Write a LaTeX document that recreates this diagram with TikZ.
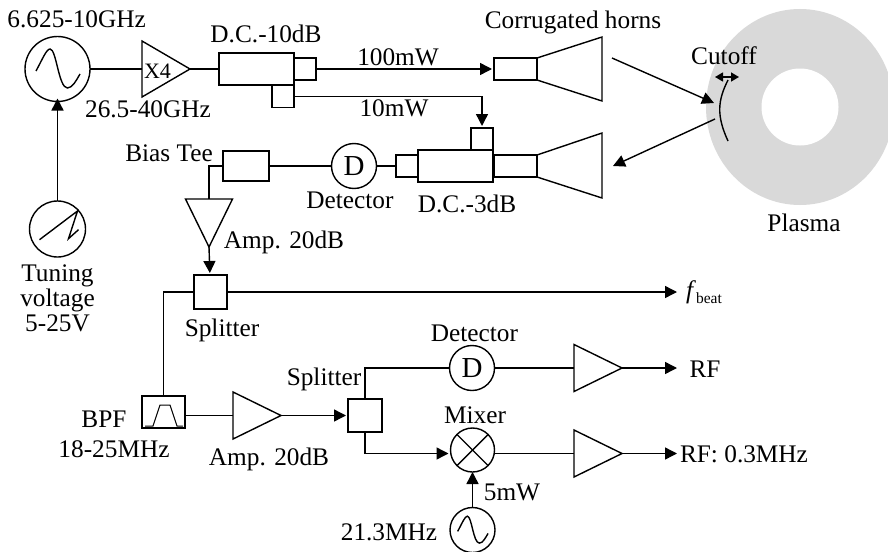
\documentclass[tikz,border=0pt]{standalone}
\usepackage{fontspec}
\setmainfont{Liberation Serif}
\usetikzlibrary{arrows.meta,positioning,shapes.geometric}

\begin{document}
\begin{tikzpicture}[
  x=1pt, y=-1pt,
  line width=1.4pt,
  box/.style={draw, rectangle, inner sep=0pt, outer sep=0pt, minimum width=#1},
  box/.default=22pt,
  dia/.style={draw, circle, inner sep=0pt, outer sep=0pt, minimum size=#1},
  amp/.style={draw, isosceles triangle, isosceles triangle stretches, inner sep=0pt, outer sep=0pt,
    minimum width=47pt, minimum height=48pt},
  lbl/.style={font=\fontsize{25.3}{25}\selectfont, inner sep=0pt, anchor=base},
  detect/.style={dia=45pt, font=\fontsize{29}{29}\selectfont},
  arr/.style={-{Triangle[length=12pt,width=12pt]}, shorten >=2pt},
  sinewave/.pic={\draw (-21.5,2) .. controls (-15,-10) and (-11,-20) .. (-7.5,-20)
    .. controls (-1,-20) and (1,19) .. (10,19) .. controls (15,19) and (19,11) .. (22.5,5);},
  rampwave/.pic={\draw (-18,10.7) -- (20,-18) -- (11,9.7) -- (21,.7);}
]
  \useasboundingbox (0,0) rectangle (888,551);
  \clip (0,0) rectangle (888,551);

  \fill[black!15] (800,107) ellipse [x radius=94, y radius=98];
  \fill[white] (800,107) circle [radius=38.5];

  \node[dia=65pt] (sweep) at (57.5,69) {};
  \pic at (sweep) {sinewave};
  \node[dia=56pt] (ramp) at (57.5,229) {};
  \pic at (ramp) {rampwave};
  \node[amp, minimum width=56pt, anchor=lower side] (mult) at (142,69) {};
  \node[lbl, font=\fontsize{22}{22}\selectfont] (multtext) at (157.5,78) {X4};
  \node[box=75pt, minimum height=32pt] (dcten) at (256.5,69) {};
  \node[box, minimum height=22pt] (dcmain) at (305,69) {};
  \node[box, minimum height=22pt] (dcside) at (283,96.5) {};
  \node[box=43pt, minimum height=22pt] (txguide) at (515.5,69) {};
  \node[box=43pt, minimum height=22pt] (rxguide) at (515.5,166) {};
  \node[box=75pt, minimum height=32pt] (dcthree) at (455.5,166) {};
  \node[box, minimum height=22pt] (dcleft) at (407,166) {};
  \node[box, minimum height=22pt] (dctop) at (482,139) {};
  \node[detect] (det) at (354,166) {D};
  \node[box=46pt, minimum height=30pt] (bias) at (246,166) {};
  \node[amp, shape border rotate=270, anchor=lower side] (ampa) at (209,199) {};
  \node[box=33pt, minimum height=34pt] (splita) at (210.5,292) {};
  \node[box=43pt, minimum height=32pt] (bpf) at (163.5,412) {};
  \node[amp, anchor=lower side] (ampb) at (233,415.5) {};
  \node[box=34pt, minimum height=33pt] (splitb) at (365,415.5) {};
  \node[detect] (detb) at (472,368) {D};
  \node[dia=44pt] (mixer) at (472.5,450) {};
  \node[dia=45pt] (lo) at (472.5,530) {};
  \pic[scale=.69] at (lo) {sinewave};
  \node[amp, anchor=lower side] (ampc) at (574,368) {};
  \node[amp, anchor=lower side] (ampd) at (574,453.5) {};

  \draw (txguide.north east) -- ++(65,-21) -- ++(0,64) -- (txguide.south east);
  \draw (rxguide.north east) -- ++(65,-22) -- ++(0,65) -- (rxguide.south east);
  \draw (mixer.45) -- (mixer.225);
  \draw (mixer.135) -- (mixer.315);
  \draw[line width=1pt] (bpf.south west) ++(3,-2) -- ++(8,0) -- ++(7,-21) -- ++(10,0) -- ++(7,21) -- ++(6,0);

  \draw (sweep) -- (mult.lower side);
  \draw (mult.apex) -- (dcten);
  \draw[arr] (dcmain) -- (txguide);
  \draw[arr] (dcside) -| (dctop);
  \draw[arr, shorten >=-3pt] (ramp) -- (sweep);
  \draw (bias) -- (det);
  \draw (det) -- (dcleft);
  \draw (bias) -| (ampa.lower side);
  \draw[arr] (ampa.apex) -- (splita);
  \draw (splita) -| (bpf);
  \draw[arr] (splita) -- (splita -| ampd.apex) -- ++(57,0);
  \draw (bpf.east |- ampb.lower side) -- (ampb.lower side);
  \draw[arr] (ampb.apex) -- (splitb);
  \draw (splitb) |- (detb);
  \draw[arr] (splitb) |- (mixer.west |- ampd.lower side);
  \draw (detb) -- (ampc.lower side);
  \draw (mixer.east |- ampd.lower side) -- (ampd.lower side);
  \draw[arr] (ampc.apex) -- ++(57,0);
  \draw[arr] (ampd.apex) -- ++(57,0);
  \draw[arr, shorten >=0pt] (lo) -- (mixer);

  \coordinate (txbeam) at (612,58);
  \coordinate (rxbeam) at (715,119);
  \coordinate (cuttop) at (728,80);
  \coordinate (cutbot) at (728,141);
  \draw[arr, shorten >=0pt] (txbeam) -- (714,103);
  \draw[arr, shorten >=0pt] (rxbeam) -- (613,166);
  \draw (cuttop) .. controls (718,100) and (716,115) .. (cutbot);
  \draw[{Triangle[length=8pt,width=9pt]}-{Triangle[length=8pt,width=9pt]}] (715,77) -- (739,77);

  \node[lbl] (sweeplbl) at (76.7,28) {6.625-10GHz};
  \node[lbl] (multlbl) at (148,117) {26.5-40GHz};
  \node[lbl] (dctenlbl) at (266,42) {D.C.-10dB};
  \node[lbl] (highlbl) at (398,66) {100mW};
  \node[lbl] (lowlbl) at (394,116.7) {10mW};
  \node[lbl] (hornlbl) at (573,29) {Corrugated horns};
  \node[lbl] (cutlbl) at (724,64) {Cutoff};
  \node[lbl] (plasmalbl) at (804,231) {Plasma};
  \node[lbl] (biaslbl) at (169,161) {Bias Tee};
  \node[lbl] (detlbl) at (350,208) {Detector};
  \node[lbl] (dcthreelbl) at (467,212) {D.C.-3dB};
  \node[lbl] (ampalbl) at (284,248) {Amp. 20dB};
  \node[lbl, anchor=north, align=center, below=7pt of ramp] (ramplbl) {Tuning\\voltage\\5-25V};
  \node[lbl] (splitalbl) at (222,336) {Splitter};
  \node[lbl] (splitblbl) at (324,385) {Splitter};
  \node[lbl] (detblbl) at (474.5,341) {Detector};
  \node[lbl] (mixerlbl) at (475,423) {Mixer};
  \node[lbl] (bpflbl) at (104,427) {BPF};
  \node[lbl] (bandlbl) at (114,457) {18-25MHz};
  \node[lbl] (ampblbl) at (269,465) {Amp. 20dB};
  \node[lbl] (lolbl) at (389,540) {21.3MHz};
  \node[lbl] (lopower) at (512,500) {5mW};
  \node[lbl] (rflbl) at (705,377) {RF};
  \node[lbl] (rfmix) at (744,462) {RF: 0.3MHz};
  \node[lbl] (beatlbl) at (704,298) {\textit{f}\raisebox{-5pt}{\fontsize{15.5}{15}\selectfont beat}};
\end{tikzpicture}
\end{document}
